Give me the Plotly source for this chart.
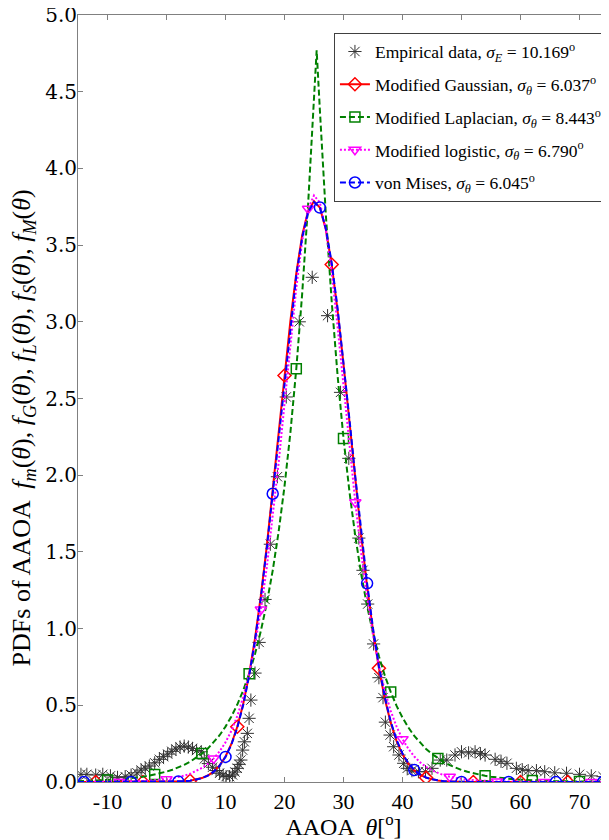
import plotly.graph_objects as go

# ---------------- data ----------------
theta = [-15, -14, -13, -12, -11, -10, -9, -8, -7, -6, -5, -4, -3, -2, -1,
         0, 1, 2, 3, 4, 5, 6, 7, 8, 9, 10, 11, 12, 13, 14, 15, 16, 17, 18, 19,
         20, 21, 22, 23, 24, 25, 26, 27, 28, 29, 30, 31, 32, 33, 34, 35, 36, 37, 38, 39,
         40, 41, 42, 43, 44, 45, 46, 47, 48, 49, 50, 51, 52, 53, 54, 55, 56, 57, 58, 59,
         60, 61, 62, 63, 64, 65, 66, 67, 68, 69, 70, 71, 72, 73, 74, 75]

f_gauss = [0.0, 0.0, 0.0, 0.0, 0.0, 0.0, 0.0, 0.0, 0.0, 0.0, 0.0, 0.0, 0.0, 0.0001, 0.0003,
           0.0007, 0.0013, 0.0025, 0.0047, 0.0084, 0.0148, 0.0254, 0.0423, 0.0685, 0.108,
           0.166, 0.248, 0.360, 0.508, 0.699, 0.934, 1.216, 1.539, 1.896, 2.272,
           2.650, 3.006, 3.318, 3.564, 3.723, 3.786, 3.744, 3.603, 3.373, 3.073,
           2.724, 2.349, 1.970, 1.608, 1.277, 0.987, 0.742, 0.543, 0.386, 0.267,
           0.180, 0.118, 0.0753, 0.0467, 0.0282, 0.0166, 0.0095, 0.0053, 0.0029, 0.0015,
           0.0008, 0.0004, 0.0002, 0.0, 0.0, 0.0, 0.0, 0.0, 0.0, 0.0,
           0.0, 0.0, 0.0, 0.0, 0.0, 0.0, 0.0, 0.0, 0.0, 0.0, 0.0, 0.0, 0.0, 0.0, 0.0, 0.0]

f_vonmises = [0.0, 0.0, 0.0, 0.0, 0.0, 0.0, 0.0, 0.0, 0.0, 0.0, 0.0, 0.0, 0.0, 0.0001, 0.0003,
              0.0007, 0.0013, 0.0025, 0.0046, 0.0083, 0.0146, 0.0250, 0.0417, 0.0676, 0.1066,
              0.1635, 0.2443, 0.355, 0.502, 0.690, 0.924, 1.203, 1.524, 1.879, 2.254,
              2.631, 2.988, 3.302, 3.550, 3.714, 3.781, 3.745, 3.609, 3.384, 3.088,
              2.741, 2.368, 1.990, 1.627, 1.295, 1.003, 0.755, 0.554, 0.395, 0.274,
              0.185, 0.1215, 0.0778, 0.0484, 0.0293, 0.0172, 0.0099, 0.0056, 0.0030, 0.0016,
              0.0008, 0.0004, 0.0002, 0.0, 0.0, 0.0, 0.0, 0.0, 0.0, 0.0,
              0.0, 0.0, 0.0, 0.0, 0.0, 0.0, 0.0, 0.0, 0.0, 0.0, 0.0, 0.0, 0.0, 0.0, 0.0, 0.0]

f_logistic = [0.0003, 0.0004, 0.0006, 0.0008, 0.0010, 0.0013, 0.0017, 0.0022, 0.0029, 0.0037,
              0.0049, 0.0064, 0.0083, 0.0108, 0.0142,
              0.0185, 0.0241, 0.0315, 0.0411, 0.0535, 0.0700, 0.0913, 0.1181, 0.1537, 0.1993,
              0.2585, 0.3341, 0.4305, 0.5525, 0.7053, 0.8942, 1.1248, 1.3998, 1.7194, 2.0780,
              2.4642, 2.8552, 3.2212, 3.5268, 3.7368, 3.8240, 3.7769, 3.6013, 3.3210, 2.9690,
              2.5822, 2.1923, 1.8237, 1.4916, 1.2030, 0.9587, 0.7575, 0.5946, 0.4641, 0.3605,
              0.2793, 0.2157, 0.1663, 0.1279, 0.0983, 0.0755, 0.0579, 0.0444, 0.0342, 0.0261,
              0.0201, 0.0153, 0.0118, 0.0090, 0.0069, 0.0053, 0.0040, 0.0031, 0.0024, 0.0018,
              0.0014, 0.0011, 0.0008, 0.0006, 0.0005, 0.0004, 0.0003, 0.0002, 0.0002, 0.0001,
              0.0001, 0.0001, 0.0001, 0.0, 0.0, 0.0]

theta_lap = [-15, -14, -13, -12, -11, -10, -9, -8, -7, -6, -5, -4, -3, -2, -1,
             0, 1, 2, 3, 4, 5, 6, 7, 8, 9, 10, 11, 12, 13, 14, 15, 16, 17, 18, 19,
             20, 21, 22, 23, 24, 25, 25.45, 26, 27, 28, 29, 30, 31, 32, 33, 34, 35, 36, 37, 38, 39,
             40, 41, 42, 43, 44, 45, 46, 47, 48, 49, 50, 51, 52, 53, 54, 55, 56, 57, 58, 59,
             60, 61, 62, 63, 64, 65, 66, 67, 68, 69, 70, 71, 72, 73, 74, 75]

f_laplace = [0.0055, 0.0065, 0.0076, 0.0090, 0.0107, 0.0127, 0.0150, 0.0177, 0.0209, 0.0247,
             0.0292, 0.0346, 0.0409, 0.0483, 0.0572,
             0.0676, 0.0799, 0.0945, 0.112, 0.132, 0.156, 0.185, 0.218, 0.258, 0.305,
             0.361, 0.427, 0.505, 0.597, 0.705, 0.834, 0.986, 1.166, 1.378, 1.630,
             1.927, 2.278, 2.694, 3.185, 3.765, 4.452, 4.77, 4.378, 3.703, 3.132, 2.649,
             2.240, 1.895, 1.603, 1.356, 1.147, 0.970, 0.820, 0.694, 0.587, 0.496,
             0.420, 0.355, 0.300, 0.254, 0.215, 0.182, 0.154, 0.130, 0.110, 0.0929,
             0.0786, 0.0665, 0.0562, 0.0476, 0.0402, 0.0340, 0.0288, 0.0243, 0.0206, 0.0174,
             0.0147, 0.0125, 0.0105, 0.0089, 0.0075, 0.0064, 0.0054, 0.0046, 0.0039, 0.0033,
             0.0028, 0.0023, 0.0020, 0.0017, 0.0014, 0.0012]

# positions where each fitted curve carries a marker
mark_gauss = [-12, -4, 4, 12, 20, 28, 36, 44, 52, 60, 68]
mark_laplace = [-10, -2, 6, 14, 22, 30, 38, 46, 54, 62, 70]
mark_logistic = [-8, 0, 8, 16, 24, 32, 40, 48, 56, 64, 72]
mark_vonmises = [-14, -6, 2, 10, 18, 26, 34, 42, 50, 58, 66, 74]

# empirical data (asterisks)
emp_x = [-14.5, -13.5, -12.0, -10.8, -9.5, -8.3, -7.0, -6.0, -5.0, -4.3, -3.6, -2.9, -2.0,
         -1.2, -0.5, 0.2, 0.9, 1.6, 2.3, 3.0, 3.7, 4.4, 5.1, 5.9, 6.4, 7.1, 7.8, 8.4, 9.0,
         9.6, 10.1, 10.7, 11.2, 11.6, 12.0, 12.3, 12.6, 12.9, 13.2, 13.7, 14.0, 14.3, 15.0,
         15.7, 16.7, 17.6, 18.8, 20.3, 22.5, 24.7, 27.3, 29.5, 30.9, 32.6, 33.3, 34.1, 35.1,
         36.0, 36.7, 37.1, 37.9, 38.5, 39.4, 40.2, 40.8, 41.6, 42.7, 43.9, 45.0, 46.4, 47.5,
         48.9, 50.0, 51.2, 52.3, 53.2, 54.0, 55.7, 56.7, 57.7, 59.3, 60.3, 61.3, 62.7, 64.1,
         65.8, 67.8, 70.0, 72.0, 74.0]
emp_y = [0.05, 0.05, 0.045, 0.05, 0.04, 0.03, 0.035, 0.045, 0.06, 0.078, 0.09, 0.104, 0.125,
         0.148, 0.165, 0.182, 0.20, 0.215, 0.228, 0.234, 0.228, 0.219, 0.205, 0.197, 0.15, 0.12,
         0.096, 0.075, 0.057, 0.045, 0.035, 0.035, 0.046, 0.065, 0.089, 0.115, 0.143, 0.208,
         0.262, 0.317, 0.415, 0.534, 0.71, 0.91, 1.19, 1.55, 1.99, 2.51, 3.0, 3.29, 3.04, 2.54,
         2.11, 1.59, 1.38, 1.16, 0.90, 0.68, 0.55, 0.39, 0.306, 0.23, 0.176, 0.122, 0.089,
         0.074, 0.067, 0.067, 0.089, 0.143, 0.143, 0.176, 0.197, 0.19, 0.197, 0.185, 0.176,
         0.148, 0.135, 0.122, 0.089, 0.08, 0.074, 0.074, 0.067, 0.06, 0.057, 0.05, 0.04, 0.035]

x_ticks = [-10, 0, 10, 20, 30, 40, 50, 60, 70]
x_ticktext = ["-10", "0", "10", "20", "30", "40", "50", "60", "70"]
y_ticks = [0.0, 0.5, 1.0, 1.5, 2.0, 2.5, 3.0, 3.5, 4.0, 4.5, 5.0]
y_ticktext = ["0.0", "0.5", "1.0", "1.5", "2.0", "2.5", "3.0", "3.5", "4.0", "4.5", "5.0"]

names = {
    "emp": "Empirical data, <i>σ</i><sub><i>E</i></sub> = 10.169<sup>o</sup>",
    "gauss": "Modified Gaussian, <i>σ</i><sub><i>θ</i></sub> = 6.037<sup>o</sup>",
    "lap": "Modified Laplacian, <i>σ</i><sub><i>θ</i></sub> = 8.443<sup>o</sup>",
    "log": "Modified logistic, <i>σ</i><sub><i>θ</i></sub> = 6.790<sup>o</sup>",
    "vm": "von Mises, <i>σ</i><sub><i>θ</i></sub> = 6.045<sup>o</sup>",
}
y_title = ("PDFs of AAOA  <i>f</i><sub><i>m</i></sub>(<i>θ</i>), <i>f</i><sub><i>G</i></sub>(<i>θ</i>), "
           "<i>f</i><sub><i>L</i></sub>(<i>θ</i>), <i>f</i><sub><i>S</i></sub>(<i>θ</i>), "
           "<i>f</i><sub><i>M</i></sub>(<i>θ</i>)")
x_title = "AAOA  <i>θ</i>[<sup>o</sup>]"

# ---------------- figure ----------------
fig = go.Figure()

fig.add_trace(go.Scatter(
    x=emp_x, y=emp_y, mode="markers", name=names["emp"], legendgroup="emp",
    marker=dict(symbol="asterisk-open", size=11, color="#333333",
                line=dict(color="#333333", width=1)),
))

series = [
    ("gauss", theta, f_gauss, mark_gauss, "#ff0000", "solid", "diamond-open", 10),
    ("lap", theta_lap, f_laplace, mark_laplace, "#008000", "6px,3px", "square-open", 10),
    ("log", theta, f_logistic, mark_logistic, "#ff00ff", "2px,2px", "triangle-down-open", 10),
    ("vm", theta, f_vonmises, mark_vonmises, "#0000ff", "6px,3px", "circle-open", 11),
]

for key, xs, ys, marks, color, dash, symbol, msize in series:
    lookup = dict(zip(xs, ys))
    fig.add_trace(go.Scatter(
        x=xs, y=ys, mode="lines", showlegend=False, legendgroup=key,
        line=dict(color=color, width=2, dash=dash),
        hoverinfo="skip",
    ))
    fig.add_trace(go.Scatter(
        x=marks, y=[lookup[m] for m in marks], mode="markers", showlegend=False,
        legendgroup=key,
        marker=dict(symbol=symbol, size=msize, color=color, line=dict(color=color, width=1.5)),
    ))
    fig.add_trace(go.Scatter(
        x=[None], y=[None], mode="lines+markers", name=names[key], legendgroup=key,
        line=dict(color=color, width=2, dash=dash),
        marker=dict(symbol=symbol, size=msize, color=color, line=dict(color=color, width=1.5)),
    ))

axis_common = dict(
    showline=True, linecolor="#808080", linewidth=1, mirror="ticks",
    ticks="inside", ticklen=5, tickcolor="#808080", tickwidth=1,
    showgrid=False, zeroline=False, ticklabeloverflow="allow",
)

fig.update_xaxes(
    range=[-15, 75], tickmode="array", tickvals=x_ticks, ticktext=x_ticktext,
    tickfont=dict(family="Liberation Serif", size=22, color="black"),
    title=dict(text=x_title,
               font=dict(family="Liberation Serif", size=24, color="black"), standoff=7),
    **axis_common,
)
fig.update_yaxes(
    range=[0, 5], tickmode="array", tickvals=y_ticks, ticktext=y_ticktext,
    tickfont=dict(family="DejaVu Serif", size=20, color="black"),
    ticklabelstandoff=-4,
    **axis_common,
)

fig.add_annotation(
    text=y_title, xref="paper", yref="paper", x=-0.104, y=0.462,
    xanchor="center", yanchor="middle", textangle=-90, showarrow=False,
    font=dict(family="Liberation Serif", size=26, color="black"),
)

fig.update_layout(
    width=601, height=832,
    margin=dict(l=70, r=0, t=7, b=58, autoexpand=False),
    plot_bgcolor="white", paper_bgcolor="white",
    font=dict(family="Liberation Serif", size=21, color="black"),
    legend=dict(
        x=0.482, y=0.977, xanchor="left", yanchor="top",
        bgcolor="white", bordercolor="#404040", borderwidth=1,
        font=dict(family="Liberation Serif", size=17.5, color="black"),
        itemwidth=30, tracegroupgap=7, traceorder="grouped",
    ),
    showlegend=True,
)

fig.write_html("out.html")
